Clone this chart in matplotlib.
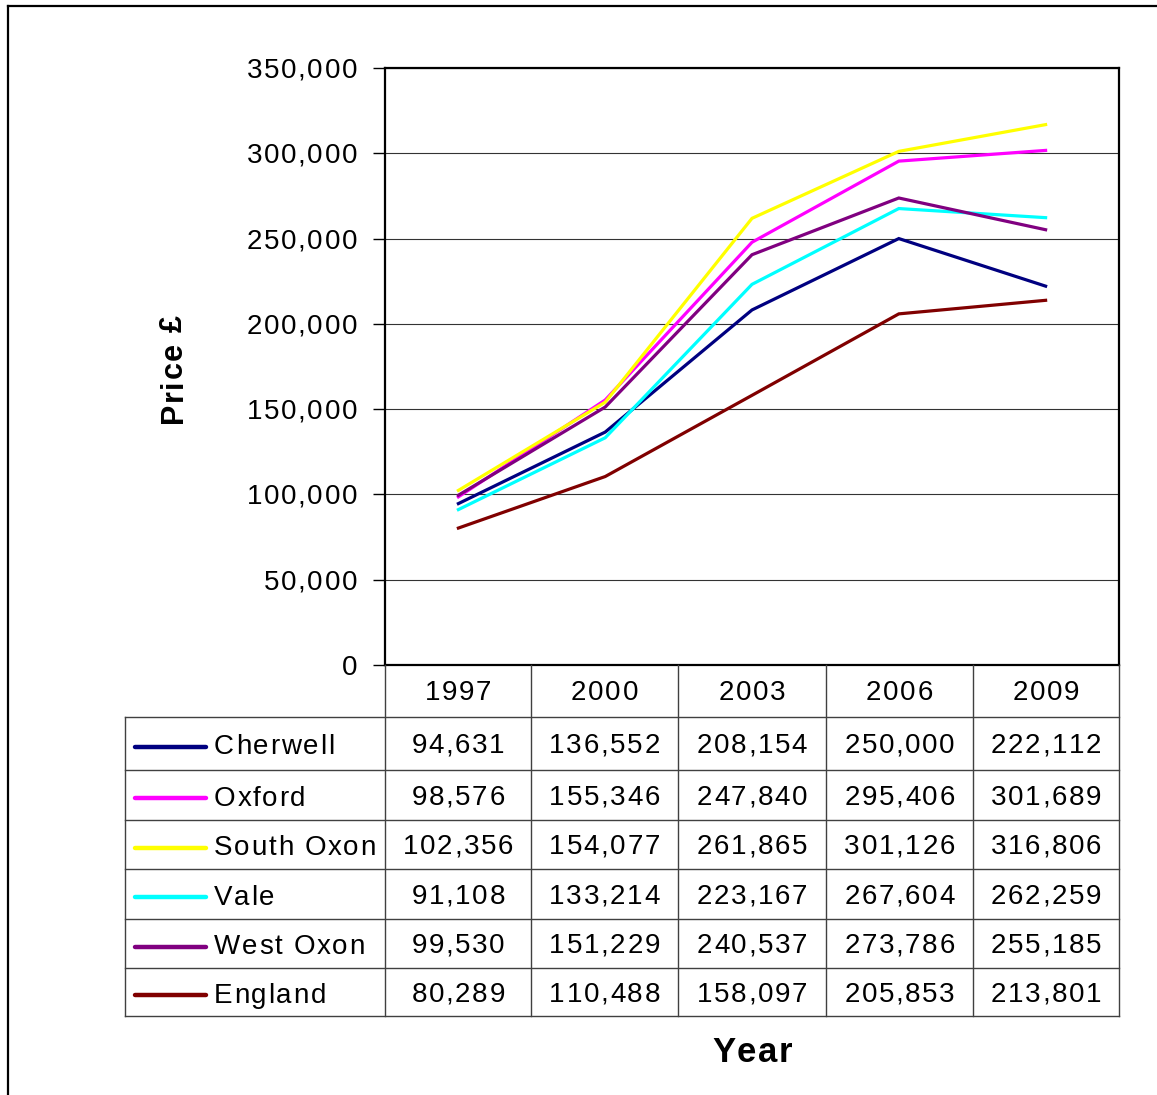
import matplotlib
matplotlib.use("Agg")
import matplotlib.pyplot as plt
from matplotlib.lines import Line2D
from matplotlib.font_manager import FontProperties, findfont
from matplotlib.ft2font import FT2Font

years = ["1997", "2000", "2003", "2006", "2009"]
areas = ["Cherwell", "Oxford", "South Oxon", "Vale", "West Oxon", "England"]
cherwell = [94631, 136552, 208154, 250000, 222112]
oxford = [98576, 155346, 247840, 295406, 301689]
south_oxon = [102356, 154077, 261865, 301126, 316806]
vale = [91108, 133214, 223167, 267604, 262259]
west_oxon = [99530, 151229, 240537, 273786, 255185]
england = [80289, 110488, 158097, 205853, 213801]
colors = ["#000080", "#FF00FF", "#FFFF00", "#00FFFF", "#800080", "#800000"]
series = [cherwell, oxford, south_oxon, vale, west_oxon, england]
y_ticks = [0, 50000, 100000, 150000, 200000, 250000, 300000, 350000]

W, H, DPI = 1157, 1095, 100
FAMILY = "Liberation Sans"
plt.rcParams["font.family"] = [FAMILY, "DejaVu Sans"]
fig = plt.figure(figsize=(W / DPI, H / DPI), dpi=DPI)


def fx(px):
    return px / W


def fy(py):
    return 1 - py / H


_fonts = {}


def advances(s, size, weight):
    if weight not in _fonts:
        path = findfont(FontProperties(family=FAMILY, weight=weight))
        _fonts[weight] = FT2Font(path)
    font = _fonts[weight]
    font.set_size(size, DPI)
    out = []
    for ch in s:
        g = font.load_char(ord(ch))
        out.append(g.linearHoriAdvance / 65536.0)
    return out


def spaced_text(x, y, s, size=20, weight="normal", ha="left", gap=1.7,
                rotation=0):
    """Draw text with extra letter spacing; x, y in pixels from top-left,
    y is the vertical centre of the capital letters."""
    adv = advances(s, size, weight)
    total = sum(adv) + gap * (len(s) - 1)
    cap = 0.716 * size * DPI / 72
    if ha == "center":
        start = -total / 2
    elif ha == "right":
        start = -total
    else:
        start = 0
    pos = start
    for ch, a in zip(s, adv):
        if rotation == 0:
            px, py = x + pos, y + cap / 2
        else:  # rotated 90 degrees, reading bottom to top
            px, py = x + cap / 2, y - pos
        fig.text(fx(px), fy(py), ch, fontsize=size, fontweight=weight,
                 ha="left", va="baseline", rotation=rotation,
                 rotation_mode="anchor", color="black")
        pos += a + gap


# outer chart border
fig.add_artist(Line2D([fx(8), fx(8)], [fy(6), fy(1100)], color="black", lw=1.6))
fig.add_artist(Line2D([fx(8), fx(1160)], [fy(6), fy(6)], color="black", lw=1.6))

# plot area
left, right, top, bottom = 385, 1119, 68, 665
ax = fig.add_axes([fx(left), fy(bottom), fx(right - left), (bottom - top) / H])
xs = list(range(len(years)))
for vals, c in zip(series, colors):
    ax.plot(xs, vals, color=c, lw=2.3, solid_joinstyle="miter")
ax.set_xlim(-0.5, len(years) - 0.5)
ax.set_ylim(0, 350000)
ax.set_yticks(y_ticks)
ax.set_yticklabels([])
ax.tick_params(axis="y", length=9, width=1, direction="out")
ax.set_xticks([])
ax.grid(axis="y", color="#333333", lw=0.8)
ax.set_axisbelow(True)
for s in ax.spines.values():
    s.set_linewidth(1.6)

# y tick labels with letter spacing
for v in y_ticks:
    _, ydisp = ax.transData.transform((0, v))
    spaced_text(357, H - ydisp, f"{v:,}", size=20, ha="right")

spaced_text(171, 369, "Price £", size=22, weight="bold", ha="center",
            rotation=90, gap=1.2)

# data table beneath the plot
col_edges = [385, 531, 678, 826, 973, 1119]
row_edges = [717, 770, 820, 869, 919, 968, 1016]
grid_c = "#404040"
for x in col_edges:
    fig.add_artist(Line2D([fx(x), fx(x)], [fy(665), fy(1016)], color=grid_c, lw=1))
for y in row_edges:
    fig.add_artist(Line2D([fx(125), fx(1119)], [fy(y), fy(y)], color=grid_c, lw=1))
fig.add_artist(Line2D([fx(125), fx(125)], [fy(717), fy(1016)], color=grid_c, lw=1))

for i, yr in enumerate(years):
    cx = (col_edges[i] + col_edges[i + 1]) / 2
    spaced_text(cx, 690, yr, size=20, ha="center")

for r, (name, vals, c) in enumerate(zip(areas, series, colors)):
    cy = (row_edges[r] + row_edges[r + 1]) / 2
    fig.add_artist(Line2D([fx(135), fx(206)], [fy(cy + 3), fy(cy + 3)], color=c,
                          lw=3.2, solid_capstyle="round"))
    spaced_text(214, cy + 1, name, size=20)
    for i, v in enumerate(vals):
        cx = (col_edges[i] + col_edges[i + 1]) / 2
        spaced_text(cx, cy, f"{v:,}", size=20, ha="center")

spaced_text(752, 1050, "Year", size=25, weight="bold", ha="center", gap=1.5)

fig.savefig("out.png", dpi=DPI)
